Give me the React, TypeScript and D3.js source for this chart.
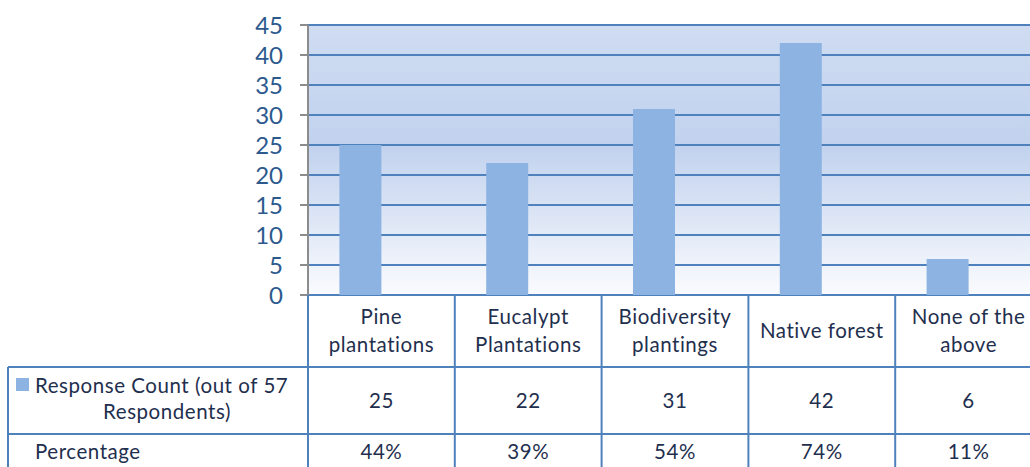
import React from "react";
import * as d3 from "d3";

const categories = [
  ["Pine", "plantations"],
  ["Eucalypt", "Plantations"],
  ["Biodiversity", "plantings"],
  ["Native forest"],
  ["None of the", "above"],
];
const responseCount = [25, 22, 31, 42, 6];
const percentage = ["44%", "39%", "54%", "74%", "11%"];
const yTicks = [0, 5, 10, 15, 20, 25, 30, 35, 40, 45];
const seriesLabel = ["Response Count (out of 57", "Respondents)"];
const rowLabel2 = "Percentage";

const W = 1030;
const H = 467;
const plotLeft = 308;
const plotTop = 25;
const plotBottom = 295;
const colW = 146.8;
const row1Bottom = 367;
const row2Bottom = 434;
const tableLeft = 8;

const FONT = "Lato, 'Open Sans', sans-serif";
const GRID = "#4f81bd";
const TEXT = "#1f2f4e";
const AXIS_TEXT = "#2d5a8e";
const TABLE_FS = 20.5;
const LS = 0.55;

export default function App() {
  const keys = categories.map((c) => c.join(" "));
  const x = d3
    .scaleBand<string>()
    .domain(keys)
    .range([plotLeft, plotLeft + colW * keys.length])
    .paddingInner(0)
    .paddingOuter(0);
  const y = d3.scaleLinear().domain([0, 45]).range([plotBottom, plotTop]);
  const barW = 42;
  const plotRight = plotLeft + colW * keys.length;

  return (
    <svg
      width={W}
      height={H}
      style={{ position: "fixed", left: 0, top: 0, background: "#fff" }}
      fontFamily={FONT}
    >
      <defs>
        <linearGradient id="plotBg" x1="0" y1="0" x2="0" y2="1">
          <stop offset="0%" stopColor="#cfdcf2" />
          <stop offset="45%" stopColor="#c2d2ee" />
          <stop offset="100%" stopColor="#fafbfe" />
        </linearGradient>
      </defs>

      {/* plot background */}
      <rect
        x={plotLeft}
        y={plotTop}
        width={plotRight - plotLeft}
        height={plotBottom - plotTop}
        fill="url(#plotBg)"
      />

      {/* gridlines */}
      {yTicks.map((t) => (
        <line
          key={"g" + t}
          x1={plotLeft}
          x2={plotRight}
          y1={y(t)}
          y2={y(t)}
          stroke={GRID}
          strokeWidth={2}
        />
      ))}

      {/* bars */}
      {keys.map((k, i) => {
        const cx = (x(k) as number) + x.bandwidth() / 2;
        return (
          <rect
            key={"b" + k}
            x={cx - barW}
            y={y(responseCount[i])}
            width={barW}
            height={y(0) - y(responseCount[i])}
            fill="#8db3e2"
          />
        );
      })}

      {/* y axis */}
      <line x1={plotLeft} x2={plotLeft} y1={plotTop} y2={plotBottom} stroke="#8c8c8c" strokeWidth={2} />
      {yTicks.map((t) => (
        <g key={"t" + t}>
          <line x1={plotLeft - 8} x2={plotLeft} y1={y(t)} y2={y(t)} stroke="#8c8c8c" strokeWidth={2} />
          <text
            x={plotLeft - 25}
            y={y(t)}
            dy="0.36em"
            textAnchor="end"
            fontSize={24}
            fill={AXIS_TEXT}
          >
            {t}
          </text>
        </g>
      ))}

      {/* data table */}
      <g stroke={GRID} strokeWidth={2} fill="none">
        {keys.map((k) => (
          <line key={"v" + k} x1={x(k) as number} x2={x(k) as number} y1={plotBottom} y2={H} />
        ))}
        <line x1={plotRight} x2={plotRight} y1={plotBottom} y2={H} />
        <line x1={tableLeft} x2={tableLeft} y1={row1Bottom} y2={H} />
        <line x1={tableLeft} x2={plotRight} y1={row1Bottom} y2={row1Bottom} />
        <line x1={tableLeft} x2={plotRight} y1={row2Bottom} y2={row2Bottom} />
      </g>

      <g fontSize={TABLE_FS} fill={TEXT} letterSpacing={LS}>
        {/* column headers */}
        {keys.map((k, i) => {
          const cx = (x(k) as number) + x.bandwidth() / 2;
          const lines = categories[i];
          const mid = (plotBottom + row1Bottom) / 2;
          const startY = mid - ((lines.length - 1) * 28) / 2;
          return (
            <text key={"h" + k} textAnchor="middle">
              {lines.map((l, j) => (
                <tspan key={j} x={cx} y={startY + j * 28} dy="0.35em">
                  {l}
                </tspan>
              ))}
            </text>
          );
        })}

        {/* row labels */}
        <rect x={16} y={378} width={13} height={13} fill="#8db3e2" />
        <text x={35} y={386} dy="0.35em">
          {seriesLabel[0]}
        </text>
        <text x={167} y={412} dy="0.35em" textAnchor="middle">
          {seriesLabel[1]}
        </text>
        <text x={35} y={452} dy="0.35em">
          {rowLabel2}
        </text>

        {/* values */}
        {keys.map((k, i) => {
          const cx = (x(k) as number) + x.bandwidth() / 2;
          return (
            <g key={"val" + k}>
              <text x={cx} y={(row1Bottom + row2Bottom) / 2} dy="0.35em" textAnchor="middle">
                {responseCount[i]}
              </text>
              <text x={cx} y={452} dy="0.35em" textAnchor="middle">
                {percentage[i]}
              </text>
            </g>
          );
        })}
      </g>
    </svg>
  );
}
